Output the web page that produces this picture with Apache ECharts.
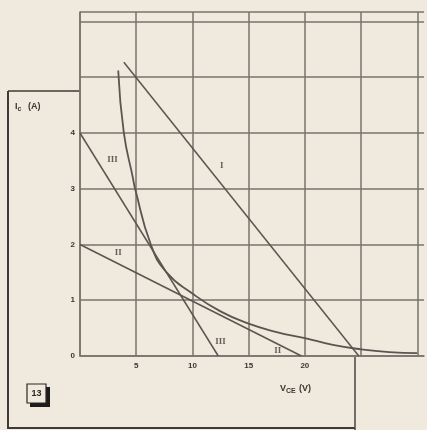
<!DOCTYPE html>
<html>
<head>
<meta charset="utf-8">
<script src="https://cdn.jsdelivr.net/npm/echarts@6/dist/echarts.min.js"></script>
<style>
  html, body { margin: 0; padding: 0; background: #efe9de; }
  #container { width: 427px; height: 430px; }
</style>
</head>
<body>
<div id="container"></div>
<script>
var dom = document.getElementById('container');
var myChart = echarts.init(dom, null, { renderer: 'canvas' });

// tick labels that are printed on the sheet
var xTickLabels = [5, 10, 15, 20];
var yTickLabels = [0, 1, 2, 3, 4];

// load lines (VCE, Ic)
var lineI = [[3.9, 5.27], [24.8, 0]];
var lineII = [[0, 2], [19.7, 0]];
var lineIII = [[0, 4], [12.3, 0]];

// the curved limit line
var curveV = [3.4, 3.9, 4.7, 4.9, 6.3, 7.7, 10, 12.5, 15, 17.5, 20, 22.5, 25, 27.5, 30];
var curveI = [5.12, 4.0, 3.2, 3.0, 2.0, 1.5, 1.12, 0.8, 0.58, 0.43, 0.32, 0.2, 0.12, 0.07, 0.05];

// roman numeral tags beside the lines
var tags = [
    [2.9, 3.53, 'III'],
    [12.5, 0.26, 'III'],
    [12.6, 3.42, 'I'],
    [3.4, 1.85, 'II'],
    [17.6, 0.1, 'II']
];

var ink = '#5a554f';
var gridInk = '#77726b';
var textInk = '#3b3733';

var option = {
    backgroundColor: '#efe9de',
    animation: false,
    grid: { left: 80, right: 0, top: 12, bottom: 74 },
    xAxis: {
        type: 'value',
        min: 0,
        max: 30.6,
        interval: 5,
        axisLine: { show: true, lineStyle: { color: gridInk, width: 1.5 } },
        axisTick: { show: false },
        splitLine: { show: true, showMaxLine: false, lineStyle: { color: gridInk, width: 1.5 } },
        axisLabel: {
            margin: 6,
            color: textInk,
            fontSize: 8,
            fontWeight: 'bold',
            fontFamily: 'Liberation Sans',
            formatter: function (v) {
                return xTickLabels.indexOf(v) >= 0 ? String(v) : '';
            }
        }
    },
    yAxis: {
        type: 'value',
        min: 0,
        max: 6.17,
        interval: 1,
        axisLine: { show: true, lineStyle: { color: gridInk, width: 1.5 } },
        axisTick: { show: false },
        splitLine: { show: true, lineStyle: { color: gridInk, width: 1.5 } },
        axisLabel: {
            margin: 5,
            color: textInk,
            fontSize: 8,
            fontWeight: 'bold',
            fontFamily: 'Liberation Sans',
            formatter: function (v) {
                return yTickLabels.indexOf(v) >= 0 ? String(v) : '';
            }
        }
    },
    series: [
        { type: 'line', data: lineI, showSymbol: false, lineStyle: { color: ink, width: 1.5 } },
        { type: 'line', data: lineII, showSymbol: false, lineStyle: { color: ink, width: 1.5 } },
        { type: 'line', data: lineIII, showSymbol: false, lineStyle: { color: ink, width: 1.5 } },
        {
            type: 'line',
            smooth: true,
            showSymbol: false,
            data: curveV.map(function (v, i) { return [v, curveI[i]]; }),
            lineStyle: { color: ink, width: 1.8 }
        },
        {
            type: 'scatter',
            symbolSize: 0,
            data: tags.map(function (t) { return { value: [t[0], t[1]], name: t[2] }; }),
            label: {
                show: true,
                position: 'inside',
                formatter: '{b}',
                color: '#3f3b37',
                fontSize: 9,
                fontWeight: 'bold',
                fontFamily: 'Liberation Serif'
            }
        }
    ],
    graphic: [
        // edges of the overlapping sheet
        { type: 'polyline', shape: { points: [[8, 91], [80, 91]] }, style: { stroke: '#3e3a36', lineWidth: 1.5, fill: null } },
        { type: 'polyline', shape: { points: [[8, 91], [8, 428], [355, 428]] }, style: { stroke: '#3e3a36', lineWidth: 2, fill: null } },
        { type: 'polyline', shape: { points: [[355, 357], [355, 430]] }, style: { stroke: '#4a4641', lineWidth: 1.5, fill: null } },
        // figure number box
        { type: 'rect', shape: { x: 30, y: 387, width: 20, height: 20 }, style: { fill: '#1e1c1a' } },
        { type: 'rect', shape: { x: 27, y: 384, width: 19, height: 19 }, style: { fill: '#efe9de', stroke: '#2a2724', lineWidth: 1.2 } },
        {
            type: 'text', x: 36.5, y: 394,
            style: { text: '13', fill: '#2a2724', font: 'bold 9px Liberation Sans', align: 'center', verticalAlign: 'middle' }
        },
        // axis names
        {
            type: 'text', x: 15, y: 100,
            style: {
                text: '{a|I}{s|c}  {a|(A)}',
                fill: textInk,
                rich: {
                    a: { fontSize: 9, fontWeight: 'bold', fontFamily: 'Liberation Sans', fill: textInk },
                    s: { fontSize: 7, fontWeight: 'bold', fontFamily: 'Liberation Sans', fill: textInk, padding: [6, 0, 0, 0] }
                }
            }
        },
        {
            type: 'text', x: 280, y: 382,
            style: {
                text: '{a|V}{s|CE} {a|(V)}',
                fill: textInk,
                rich: {
                    a: { fontSize: 9, fontWeight: 'bold', fontFamily: 'Liberation Sans', fill: textInk },
                    s: { fontSize: 7, fontWeight: 'bold', fontFamily: 'Liberation Sans', fill: textInk, padding: [6, 0, 0, 0] }
                }
            }
        }
    ]
};

myChart.setOption(option);
window.addEventListener('resize', myChart.resize);
</script>
</body>
</html>
